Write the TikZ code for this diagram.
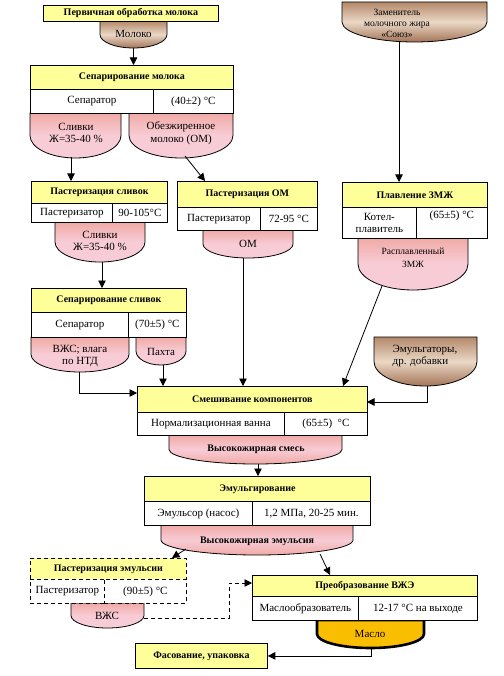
\documentclass[tikz,border=0pt]{standalone}
\usepackage{fontspec}
\setmainfont{Liberation Serif}
\usetikzlibrary{arrows.meta,calc}
\definecolor{ybox}{RGB}{255,255,153}
\definecolor{pinkA}{RGB}{240,170,165}
\definecolor{pinkB}{RGB}{248,204,214}
\definecolor{brnA}{RGB}{180,136,106}
\definecolor{brnB}{RGB}{234,216,198}
\definecolor{brnC}{RGB}{164,116,88}
\definecolor{goldfill}{RGB}{250,190,0}
\newcommand\mybowl[6]{%
  \pgfmathsetmacro\bxc{(#2+#4)/2}%
  \pgfmathsetmacro\bym{(#3+#5)/2}%
  \pgfmathsetmacro\brx{(#4-#2)/2*0.5523}%
  \pgfmathsetmacro\bry{(#5-#3)/2*0.5523}%
  \path[#6] (#2,#3) -- (#2,\bym) .. controls (#2,\bym+\bry) and (\bxc-\brx,#5) .. (\bxc,#5) .. controls (\bxc+\brx,#5) and (#4,\bym+\bry) .. (#4,\bym) -- (#4,#3) -- cycle;%
  \coordinate (#1-b) at (\bxc,#5);%
}
\begin{document}
\begin{tikzpicture}[x=1pt,y=-1pt,
  every node/.style={font=\fontsize{11}{12.5}\selectfont},
  ttl/.style={draw, fill=ybox, line width=0.8pt, font=\fontsize{10}{12.5}\selectfont\bfseries, anchor=north west, inner sep=0pt, align=center},
  cell/.style={draw, fill=white, line width=0.8pt, anchor=north west, inner sep=0pt, align=center},
  pinkbowl/.style={draw=black, line width=0.8pt, top color=pinkA, bottom color=pinkB, middle color=pinkB},
  pinkbowlB/.style={draw=black, line width=0.8pt, top color=pinkA, bottom color=pinkA, middle color=pinkB},
  brownbowl/.style={draw=black, line width=0.8pt, top color=brnA, bottom color=brnC, middle color=brnB},
  goldbowl/.style={draw=black, line width=2.6pt, fill=goldfill},
  btext/.style={align=center, inner sep=0pt},
  dsh/.style={dashed, dash pattern=on 4pt off 3pt},
  arr/.style={-{Triangle[length=7.5pt,width=7.5pt]}, line width=0.8pt},
]
\fill[white] (0,0) rectangle (503,676);
\useasboundingbox (0,0) rectangle (503,676);

% ---------- bowls ----------
\mybowl{mol}{100}{21}{167}{48}{brownbowl}
\node[btext] (molt) at (133.5,34) {Молоко};
\mybowl{zam}{342}{2}{487}{42}{brownbowl}
\node[btext, font=\fontsize{9.5}{11}\selectfont] (zamt) at (397,23) {Заменитель\\молочного жира\\«Союз»};
\mybowl{cr1}{30}{113}{121}{158}{pinkbowl}
\node[btext] (cr1t) at (76,133) {Сливки\\Ж=35-40 \%};
\mybowl{ob}{129}{113}{233}{158}{pinkbowl}
\node[btext] (obt) at (181,133) {Обезжиренное\\молоко (ОМ)};
\mybowl{cr2}{55}{222}{145}{262}{pinkbowl}
\node[btext] (cr2t) at (100,241) {Сливки\\Ж=35-40 \%};
\mybowl{om}{203}{230}{293}{258}{pinkbowl}
\node[btext] (omt) at (248,244) {ОМ};
\mybowl{rz}{358}{238}{468}{290}{pinkbowl}
\node[btext, font=\fontsize{9.5}{12.5}\selectfont] (rzt) at (413,258) {Расплавленный\\ЗМЖ};
\mybowl{vz}{31}{337}{129}{372}{pinkbowl}
\node[btext] (vzt) at (80,356) {ВЖС; влага\\по НТД};
\mybowl{pa}{136}{337}{186}{365}{pinkbowl}
\node[btext] (pat) at (161,352) {Пахта};
\mybowl{em}{374}{337}{477}{386}{brownbowl}
\node[btext, align=left] (emt) at (425,356) {Эмульгаторы,\\др. добавки};
\mybowl{vs}{169}{435}{342}{464}{pinkbowlB}
\node[btext, font=\fontsize{10}{12.5}\selectfont\bfseries] (vst) at (256,449) {Высокожирная смесь};
\mybowl{ve}{161}{525}{353}{555}{pinkbowlB}
\node[btext, font=\fontsize{10}{12.5}\selectfont\bfseries] (vet) at (257,541) {Высокожирная эмульсия};
\mybowl{pv}{71}{603}{144}{628}{pinkbowl}
\node[btext] (pvt) at (107,616) {ВЖС};
\mybowl{ms}{317}{620}{424}{648}{goldbowl}
\node[btext] (mst) at (370,634) {Масло};

% ---------- process boxes ----------
\node[ttl, minimum width=175pt, minimum height=16pt] (prim) at (43,5) {Первичная обработка молока};

\node[ttl, minimum width=203pt, minimum height=24pt] (sm) at (30,65) {Сепарирование молока};
\node[cell, minimum width=123pt, minimum height=24pt] (sml) at (30,89) {Сепаратор};
\node[cell, minimum width=80pt, minimum height=24pt] (smr) at (153,89) {(40±2) °C};

\node[ttl, minimum width=136pt, minimum height=22pt] (pc) at (31,181) {Пастеризация сливок};
\node[cell, minimum width=81pt, minimum height=19pt] (pcl) at (31,203) {Пастеризатор};
\node[cell, minimum width=55pt, minimum height=19pt] (pcr) at (112,203) {90-105°C};

\node[ttl, minimum width=140pt, minimum height=26pt] (po) at (177,181) {Пастеризация ОМ};
\node[cell, minimum width=83pt, minimum height=23pt] (pol) at (177,207) {Пастеризатор};
\node[cell, minimum width=57pt, minimum height=23pt] (por) at (260,207) {72-95 °C};

\node[ttl, minimum width=145pt, minimum height=25pt] (mz) at (342,182) {Плавление ЗМЖ};
\node[cell, minimum width=74pt, minimum height=31pt] (mzl) at (342,207) {Котел-\\плавитель};
\node[cell, minimum width=71pt, minimum height=31pt] (mzr) at (416,207) {(65±5) °C\\\strut};

\node[ttl, minimum width=155pt, minimum height=24pt] (sc) at (31,288) {Сепарирование сливок};
\node[cell, minimum width=97pt, minimum height=25pt] (scl) at (31,312) {Сепаратор};
\node[cell, minimum width=58pt, minimum height=25pt] (scr) at (128,312) {(70±5) °C};

\node[ttl, minimum width=230pt, minimum height=26pt] (mix) at (137,386) {Смешивание компонентов};
\node[cell, minimum width=147pt, minimum height=23pt] (mixl) at (137,412) {Нормализационная ванна};
\node[cell, minimum width=83pt, minimum height=23pt] (mixr) at (284,412) {(65±5)\ \ °C};

\node[ttl, minimum width=226pt, minimum height=25pt] (emu) at (144,476) {Эмульгирование};
\node[cell, minimum width=108pt, minimum height=24pt] (emul) at (144,501) {Эмульсор (насос)};
\node[cell, minimum width=118pt, minimum height=24pt] (emur) at (252,501) {1,2 МПа, 20-25 мин.};

\node[ttl, dsh, minimum width=156pt, minimum height=21pt] (pe) at (30,558) {Пастеризация эмульсии};
\node[cell, dsh, minimum width=74pt, minimum height=24pt] (pel) at (30,579) {Пастеризатор};
\node[cell, dsh, minimum width=82pt, minimum height=24pt] (per) at (104,579) {(90±5) °C};

\node[ttl, minimum width=225pt, minimum height=21pt] (cv) at (252,575) {Преобразование ВЖЭ};
\node[cell, minimum width=106pt, minimum height=24pt] (cvl) at (252,596) {Маслообразователь};
\node[cell, minimum width=119pt, minimum height=24pt] (cvr) at (358,596) {12-17 °C на выходе};

\node[ttl, minimum width=132pt, minimum height=25pt] (pk) at (135,643) {Фасование, упаковка};

% ---------- connector end points ----------
\coordinate (zamout) at (399,41.5);
\coordinate (cr1out) at (71,157.5);
\coordinate (obout) at (185,156);
\coordinate (poin) at (205,181);
\coordinate (cr2out) at (102,261.5);
\coordinate (omout) at (243,257.5);
\coordinate (rzout) at (382,286);
\coordinate (mixin1) at (343,386);
\coordinate (vzout) at (79,371.5);
\coordinate (mixin2) at (137,393);
\coordinate (paout) at (163,364.5);
\coordinate (emout) at (427,385.5);
\coordinate (mixin3) at (367,402);
\coordinate (vsout) at (258,463.5);
\coordinate (veout1) at (186,549);
\coordinate (pein) at (172,558);
\coordinate (veout2) at (320,554);
\coordinate (cvin) at (330,575);
\coordinate (pvout) at (144,618);
\coordinate (cvin2) at (252,583);
\coordinate (msout) at (371,648);

% ---------- connectors ----------
\draw[arr] (mol-b) -- (mol-b |- sm.north);
\draw[arr] (zamout) -- (zamout |- mz.north);
\draw[arr] (cr1out) -- (cr1out |- pc.north);
\draw[arr] (obout) -- (poin);
\draw[arr] (cr2out) -- (cr2out |- sc.north);
\draw[arr] (omout) -- (omout |- mix.north);
\draw[arr] (rzout) -- (mixin1);
\draw[arr] (vzout) |- (mixin2);
\draw[arr] (paout) -- (paout |- mix.north);
\draw[arr] (emout) |- (mixin3);
\draw[arr] (vsout) -- (vsout |- emu.north);
\draw[arr] (veout1) -- (pein);
\draw[arr] (veout2) -- (cvin);
\draw[arr, dsh] (pvout) -- (229,618) -- (229,583) -- (cvin2);
\draw[arr] (msout) |- (pk.east);
\end{tikzpicture}
\end{document}
